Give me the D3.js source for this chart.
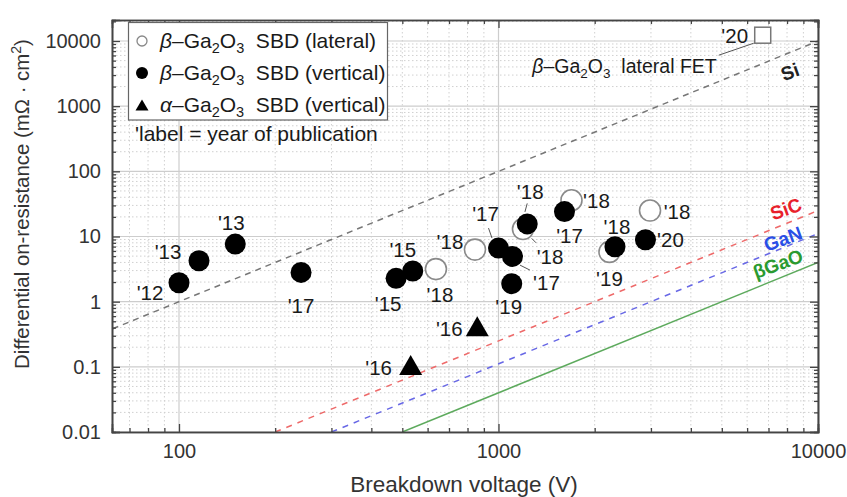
<!DOCTYPE html>
<html><head><meta charset="utf-8">
<script src="https://cdn.jsdelivr.net/npm/d3@7/dist/d3.min.js"></script>
<style>
body{margin:0;background:#fff}
svg text{font-family:"Liberation Sans",Arial,Helvetica,sans-serif}
</style>
</head><body>
<svg id="chart" width="847" height="497"></svg>
<script>
// ---------------- data ----------------
// beta-Ga2O3 SBD (lateral)  – open circles
const lateralV    = [637, 844, 1193, 1692, 2225, 2980];
const lateralR    = [3.16, 6.3, 13, 36, 5.8, 25];
const lateralYear = ["'18", "'18", "'18", "'18", "'19", "'18"];
// beta-Ga2O3 SBD (vertical) – filled circles
const verticalV    = [100, 115.5, 150, 241, 478, 539, 1000, 1106, 1100, 1230, 1609, 2315, 2884];
const verticalR    = [1.95, 4.24, 7.64, 2.81, 2.28, 2.95, 6.64, 4.95, 1.89, 15.6, 24.1, 6.95, 8.9];
const verticalYear = ["'12", "'13", "'13", "'17", "'15", "'15", "'17", "'17", "'19", "'18", "'17", "'18", "'20"];
// alpha-Ga2O3 SBD (vertical) – filled triangles
const alphaV    = [531, 858];
const alphaR    = [0.107, 0.42];
const alphaYear = ["'16", "'16"];
// beta-Ga2O3 lateral FET – open square
const fetV    = [6714];
const fetR    = [12270];
const fetYear = ["'20"];
// material limit lines (end points)
const limitNames = ["Si", "SiC", "GaN", "βGaO"];
const limitV     = [[62, 10000], [200, 10000], [300, 10000], [500, 10000]];
const limitR     = [[0.384, 10000], [0.01, 25], [0.01, 11.1], [0.01, 4]];
// axis ticks
const xMajorTicks = [100, 1000, 10000];
const xTickLabels = ["100", "1000", "10000"];
const xMinorTicks = [70, 80, 90, 200, 300, 400, 500, 600, 700, 800, 900, 2000, 3000, 4000, 5000, 6000, 7000, 8000, 9000];
const yMajorTicks = [0.01, 0.1, 1, 10, 100, 1000, 10000];
const yTickLabels = ["0.01", "0.1", "1", "10", "100", "1000", "10000"];
const yMinorTicks = [];
[0.01, 0.1, 1, 10, 100, 1000, 10000].forEach(d => [2,3,4,5,6,7,8,9].forEach(m => { if (d*m < 21000) yMinorTicks.push(+(d*m).toPrecision(3)); }));

// ---------------- layout ----------------
const W = 847, H = 497;
const M = {left:112, right:29, top:20, bottom:65};
const iw = W - M.left - M.right, ih = H - M.top - M.bottom;
const svg = d3.select("#chart");
const g = svg.append("g").attr("transform", `translate(${M.left},${M.top})`);

const x = d3.scaleLog().domain([61.7, 10000]).range([0, iw]);
const y = d3.scaleLog().domain([0.01, 21000]).range([ih, 0]);

svg.append("defs").append("clipPath").attr("id","clip")
  .append("rect").attr("width", iw).attr("height", ih);

// grid
const grid = g.append("g");
grid.selectAll(".xmin").data(xMinorTicks).join("line")
  .attr("x1", d=>x(d)).attr("x2", d=>x(d)).attr("y1",0).attr("y2",ih)
  .attr("stroke","#d0d0d0").attr("stroke-width",1).attr("stroke-dasharray","1.5,2.5");
grid.selectAll(".ymin").data(yMinorTicks).join("line")
  .attr("y1", d=>y(d)).attr("y2", d=>y(d)).attr("x1",0).attr("x2",iw)
  .attr("stroke","#d0d0d0").attr("stroke-width",1).attr("stroke-dasharray","1.5,2.5");
grid.selectAll(".xmaj").data(xMajorTicks).join("line")
  .attr("x1", d=>x(d)).attr("x2", d=>x(d)).attr("y1",0).attr("y2",ih)
  .attr("stroke","#cdcdcd").attr("stroke-width",1.2);
grid.selectAll(".ymaj").data(yMajorTicks).join("line")
  .attr("y1", d=>y(d)).attr("y2", d=>y(d)).attr("x1",0).attr("x2",iw)
  .attr("stroke","#cdcdcd").attr("stroke-width",1.2);

// limit lines
const limitColors = ["#777", "#ee6a6a", "#6868e6", "#5daa5d"];
const limitDash   = ["6,5", "6,6", "6,6", null];
const line = d3.line().x(d=>x(d[0])).y(d=>y(d[1]));
const lines = g.append("g").attr("clip-path","url(#clip)");
limitNames.forEach((n,i) => {
  lines.append("path")
    .attr("d", line(limitV[i].map((v,j)=>[v, limitR[i][j]])))
    .attr("fill","none").attr("stroke", limitColors[i]).attr("stroke-width", 1.5)
    .attr("stroke-dasharray", limitDash[i]);
});

// limit labels
const limitLabelPos = [[790,72], [786,209], [783,239], [778,264]];
const limitLabelColors = ["#222", "#e8202a", "#2a4ee6", "#2a9a30"];
limitNames.forEach((n,i) => {
  svg.append("text").attr("x", limitLabelPos[i][0]).attr("y", limitLabelPos[i][1])
    .attr("transform", `rotate(-20,${limitLabelPos[i][0]},${limitLabelPos[i][1]})`)
    .attr("text-anchor","middle").attr("dominant-baseline","central")
    .attr("font-size", 19).attr("font-weight","bold").attr("fill", limitLabelColors[i]).text(n);
});

// axes (inward ticks on all four sides)
function styleAxis(sel){
  sel.selectAll("path.domain").attr("stroke","#444").attr("stroke-width",1.6);
  sel.selectAll(".tick line").attr("stroke","#444").attr("stroke-width",1.3);
  sel.selectAll("text").attr("fill","#333").attr("font-size",20).attr("font-family",'"Liberation Sans",Arial,sans-serif');
}
const xb = g.append("g").attr("transform",`translate(0,${ih})`)
  .call(d3.axisBottom(x).tickValues(xMajorTicks).tickSize(-8).tickPadding(12).tickFormat((d,i)=>xTickLabels[i]));
styleAxis(xb);
const xbm = g.append("g").attr("transform",`translate(0,${ih})`)
  .call(d3.axisBottom(x).tickValues(xMinorTicks).tickSize(-4).tickFormat(""));
styleAxis(xbm);
const xt = g.append("g").call(d3.axisTop(x).tickValues(xMajorTicks).tickSize(-8).tickFormat(""));
styleAxis(xt);
const xtm = g.append("g").call(d3.axisTop(x).tickValues(xMinorTicks).tickSize(-4).tickFormat(""));
styleAxis(xtm);
const yl = g.append("g")
  .call(d3.axisLeft(y).tickValues(yMajorTicks).tickSize(-8).tickPadding(11).tickFormat((d,i)=>yTickLabels[i]));
styleAxis(yl);
const ylm = g.append("g").call(d3.axisLeft(y).tickValues(yMinorTicks).tickSize(-4).tickFormat(""));
styleAxis(ylm);
const yr = g.append("g").attr("transform",`translate(${iw},0)`)
  .call(d3.axisRight(y).tickValues(yMajorTicks).tickSize(-8).tickFormat(""));
styleAxis(yr);
const yrm = g.append("g").attr("transform",`translate(${iw},0)`)
  .call(d3.axisRight(y).tickValues(yMinorTicks).tickSize(-4).tickFormat(""));
styleAxis(yrm);

// axis titles
svg.append("text").attr("x", 464).attr("y", 492).attr("text-anchor","middle")
  .attr("font-size", 22.5).attr("fill","#333").text("Breakdown voltage (V)");
const yt = svg.append("text").attr("transform","translate(29,204) rotate(-90)")
  .attr("text-anchor","middle").attr("font-size", 20.4).attr("fill","#333");
yt.append("tspan").text("Differential on-resistance (mΩ · cm");
yt.append("tspan").attr("dy",-8).attr("font-size",14).text("2");
yt.append("tspan").attr("dy",8).text(")");

// markers
const pts = g.append("g");
const labelSize = 20.5;
function addLabels(V, R, lab, off){
  V.forEach((v,i)=>{
    pts.append("text").attr("x", x(v)+off[i][0]).attr("y", y(R[i])+off[i][1])
      .attr("text-anchor","middle").attr("dominant-baseline","central")
      .attr("font-size", labelSize).attr("fill","#1a1a1a").text(lab[i]);
  });
}
// leader lines [x1,y1,x2,y2] relative to point
function addLeader(v, r, l){
  pts.append("line").attr("x1", x(v)+l[0]).attr("y1", y(r)+l[1]).attr("x2", x(v)+l[2]).attr("y2", y(r)+l[3])
    .attr("stroke","#555").attr("stroke-width",1);
}
// open circles
lateralV.forEach((v,i)=>{
  pts.append("circle").attr("cx", x(v)).attr("cy", y(lateralR[i])).attr("r", 10.5)
    .attr("fill","#fff").attr("stroke","#8a8a8a").attr("stroke-width",1.6);
});
// filled circles
verticalV.forEach((v,i)=>{
  pts.append("circle").attr("cx", x(v)).attr("cy", y(verticalR[i])).attr("r", 10.5).attr("fill","#000");
});
// triangles
const tri = (cx,cy,w,h)=>`M${cx},${cy-h/2}L${cx+w/2},${cy+h/2}L${cx-w/2},${cy+h/2}Z`;
alphaV.forEach((v,i)=>{
  pts.append("path").attr("d", tri(x(v), y(alphaR[i]), 23, 20)).attr("fill","#000");
});
// square
fetV.forEach((v,i)=>{
  pts.append("rect").attr("x", x(v)-8).attr("y", y(fetR[i])-8).attr("width",16).attr("height",16)
    .attr("fill","#fff").attr("stroke","#777").attr("stroke-width",1.5);
});

// labels
const lateralOff  = [[4,25],[-25,-8],[27,27],[25,0],[0,27],[27,1]];
const verticalOff = [[-29,10],[-31,-9],[-4,-22],[0,33],[-8,25],[-10,-22],[-13,-35],[34,26],[-3,23],[3,-32],[5,24],[2,-20],[25,0]];
const alphaOff    = [[-32,3],[-28,2]];
const fetOff      = [[-28,0]];
addLabels(lateralV, lateralR, lateralYear, lateralOff);
addLabels(verticalV, verticalR, verticalYear, verticalOff);
addLabels(alphaV, alphaR, alphaYear, alphaOff);
addLabels(fetV, fetR, fetYear, fetOff);
addLeader(verticalV[6], verticalR[6], [-10,-20,-6.5,-10]);
addLeader(verticalV[7], verticalR[7], [7.5,8.7,17.5,13.7]);
addLeader(verticalV[9], verticalR[9], [0,-20.5,-2.3,-12]);
addLeader(lateralV[2], lateralR[2], [8.7,9.3,13,13.7]);
addLeader(fetV[0], fetR[0], [-9,8,-44,20]);

// FET label
const ft = pts.append("text").attr("x", x(fetV[0])-46).attr("y", y(fetR[0])+38)
  .attr("text-anchor","end").attr("font-size", 19.5).attr("fill","#1a1a1a").style("white-space","pre");
ft.append("tspan").attr("font-style","italic").text("β");
ft.append("tspan").text("–Ga");
ft.append("tspan").attr("dy",5).attr("font-size",13.5).text("2");
ft.append("tspan").attr("dy",-5).text("O");
ft.append("tspan").attr("dy",5).attr("font-size",13.5).text("3");
ft.append("tspan").attr("dy",-5).text("  lateral FET");

// legend
const lg = svg.append("g");
lg.append("rect").attr("x",128.5).attr("y",22.5).attr("width",259).attr("height",97.5)
  .attr("fill","#fff").attr("stroke","#666").attr("stroke-width",1.2);
const legRows = [
  {sym:"open", greek:"β", rest:"  SBD (lateral)"},
  {sym:"fill", greek:"β", rest:"  SBD (vertical)"},
  {sym:"tri",  greek:"α", rest:"  SBD (vertical)"}
];
legRows.forEach((r,i)=>{
  const cy = 41 + i*32;
  if (r.sym==="open") lg.append("circle").attr("cx",142).attr("cy",cy).attr("r",5).attr("fill","#fff").attr("stroke","#888").attr("stroke-width",1.3);
  if (r.sym==="fill") lg.append("circle").attr("cx",142).attr("cy",cy).attr("r",6).attr("fill","#000");
  if (r.sym==="tri")  lg.append("path").attr("d", tri(142, cy, 13, 11)).attr("fill","#000");
  const t = lg.append("text").attr("x",160).attr("y",cy+7).attr("font-size",21).attr("fill","#1a1a1a").style("white-space","pre");
  t.append("tspan").attr("font-style","italic").text(r.greek);
  t.append("tspan").text("–Ga");
  t.append("tspan").attr("dy",5).attr("font-size",14.5).text("2");
  t.append("tspan").attr("dy",-5).text("O");
  t.append("tspan").attr("dy",5).attr("font-size",14.5).text("3");
  t.append("tspan").attr("dy",-5).text(r.rest);
});
lg.append("text").attr("x",135).attr("y",141).attr("font-size",21).attr("fill","#1a1a1a")
  .text("'label = year of publication");
</script>
</body></html>
